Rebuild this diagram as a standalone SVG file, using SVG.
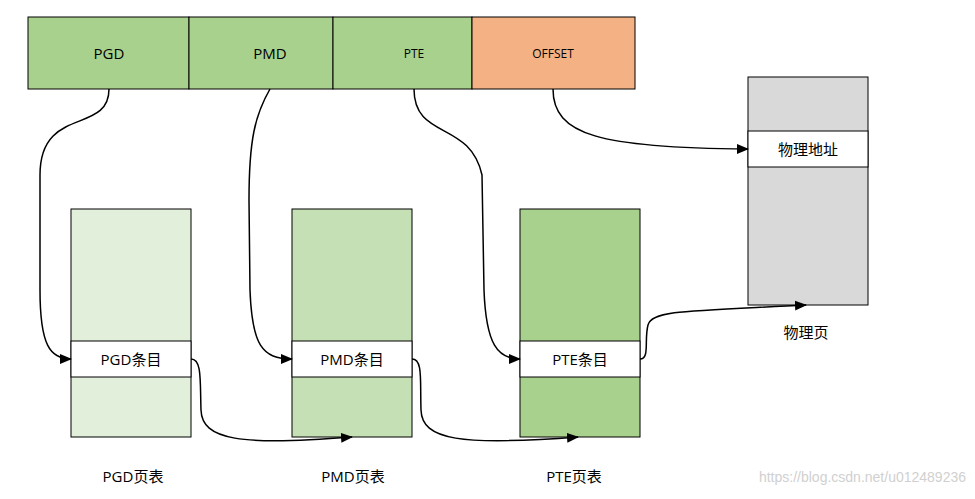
<svg xmlns="http://www.w3.org/2000/svg" width="975" height="499" viewBox="0 0 975 499">
<style>
.box{stroke:#000;stroke-width:1}
.t{font-family:"Open Sans","Noto Sans CJK SC",sans-serif;font-size:15px;fill:#000;text-anchor:middle;dominant-baseline:central}
.s{font-size:12px}
.c{fill:none;stroke:#000;stroke-width:1.5}
</style>
<defs>
<marker id="a" markerUnits="userSpaceOnUse" markerWidth="12" markerHeight="12" viewBox="0 0 12 12" refX="11" refY="6" orient="auto">
<path d="M0,1 L12,6 L0,11 Z" fill="#000"/>
</marker>
</defs>
<rect width="975" height="499" fill="#fff"/>
<g id="addr">
<g id="f-pgd"><rect class="box" x="28" y="17" width="161" height="72" fill="#A9D18E"/><text class="t" x="109" y="53">PGD</text></g>
<g id="f-pmd"><rect class="box" x="189" y="17" width="144" height="72" fill="#A9D18E"/><text class="t" x="270" y="53">PMD</text></g>
<g id="f-pte"><rect class="box" x="333" y="17" width="139" height="72" fill="#A9D18E"/><text class="t s" x="414" y="53">PTE</text></g>
<g id="f-off"><rect class="box" x="472" y="17" width="163" height="72" fill="#F4B183"/><text class="t s" x="553" y="53">OFFSET</text></g>
</g>
<g id="pgd-table">
<rect class="box" x="71" y="209" width="120" height="228" fill="#E2EFDA"/>
<rect class="box" x="71" y="341" width="120" height="36" fill="#fff"/>
<text class="t" x="131" y="359">PGD条目</text>
<text class="t" x="133" y="476">PGD页表</text>
</g>
<g id="pmd-table">
<rect class="box" x="292" y="209" width="120" height="228" fill="#C5E0B4"/>
<rect class="box" x="292" y="341" width="120" height="36" fill="#fff"/>
<text class="t" x="352" y="359">PMD条目</text>
<text class="t" x="353" y="476">PMD页表</text>
</g>
<g id="pte-table">
<rect class="box" x="520" y="209" width="120" height="228" fill="#A9D18E"/>
<rect class="box" x="520" y="341" width="120" height="36" fill="#fff"/>
<text class="t" x="580" y="359">PTE条目</text>
<text class="t" x="574" y="476">PTE页表</text>
</g>
<g id="page">
<rect class="box" x="748" y="77" width="120" height="228" fill="#D9D9D9"/>
<rect class="box" x="748" y="131" width="120" height="36" fill="#fff"/>
<text class="t" x="808" y="149">物理地址</text>
<text class="t" x="806" y="332">物理页</text>
</g>
<g id="connectors">
<path class="c" marker-end="url(#a)" d="M109,89 C109,135 40,105 40,175 L40,290 C40,345 50,359 71,359"/>
<path class="c" marker-end="url(#a)" d="M270,89 C255,115 249,140 249,200 L250,290 C252,345 262,359 292,359"/>
<path class="c" marker-end="url(#a)" d="M414,89 C414,140 470,120 482,175 L484,290 C486,345 498,359 520,359"/>
<path class="c" marker-end="url(#a)" d="M553,89 C553,135 600,148 748,149"/>
<path class="c" marker-end="url(#a)" d="M191,359 C202,359 200,380 201,410 C202,440 240,446 352,437"/>
<path class="c" marker-end="url(#a)" d="M412,359 C423,359 420,380 421,410 C422,440 460,446 578,437"/>
<path class="c" marker-end="url(#a)" d="M640,359 C650,359 644,340 648,325 C652,310 690,311 806,305"/>
</g>
<text x="966" y="482" style="font-family:'Liberation Sans',sans-serif;font-size:14px;fill:#d0d0d0;text-anchor:end">https://blog.csdn.net/u012489236</text>
</svg>
